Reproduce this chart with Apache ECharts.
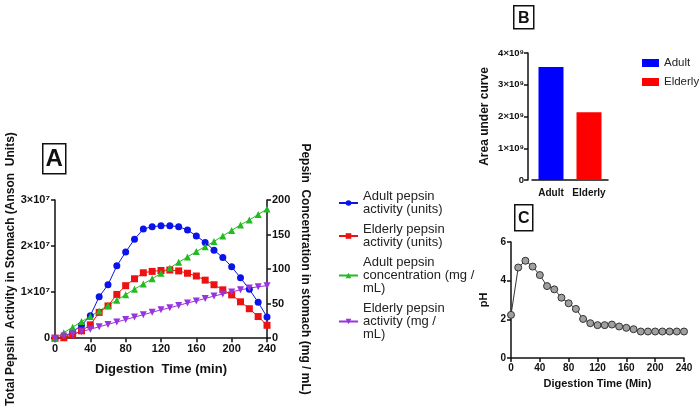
<!DOCTYPE html>
<html>
<head>
<meta charset="utf-8">
<script src="https://cdn.jsdelivr.net/npm/echarts@6/dist/echarts.min.js"></script>
<style>
  html, body { margin: 0; padding: 0; background: #ffffff; }
  #chart { width: 700px; height: 408px; }
</style>
</head>
<body>
<div id="chart"></div>
<script>
// time points (min)
const time = [0, 10, 20, 30, 40, 50, 60, 70, 80, 90, 100, 110, 120, 130, 140, 150, 160, 170, 180, 190, 200, 210, 220, 230, 240]

// panel A - left axis (Anson units)
const adultActivity = [0, 300000, 1400000, 2800000, 4900000, 9000000, 11600000, 15700000, 18700000, 21500000, 23700000, 24200000, 24400000,
  24400000, 24200000, 23500000, 22200000, 20800000, 19100000, 17500000, 15500000, 13100000, 10600000, 7800000, 4600000]
const elderlyActivity = [0, 100000, 700000, 1600000, 2900000, 5600000, 7000000, 9500000, 11400000, 12900000, 14200000, 14500000, 14700000,
  14800000, 14600000, 14100000, 13500000, 12600000, 11600000, 10500000, 9400000, 7900000, 6400000, 4700000, 2800000]
// panel A - right axis (mg / mL)
const adultConc = [0, 8, 16, 24, 31.5, 39.5, 47.5, 55, 63, 71, 78.5, 86, 94, 101.5, 110, 117.5, 125.5, 132.5, 140, 148, 156, 164, 171, 179, 187]
const elderlyConc = [0, 3, 6, 9.5, 13, 16.5, 20, 23.5, 27, 30.5, 34, 37.5, 41, 44, 47.5, 51, 54, 57.5, 61, 64, 67, 70, 72.5, 74.5, 76]

// panel B
const aucGroups = ['Adult', 'Elderly']
const aucValues = [3560000000, 2130000000]

// panel C
const phValues = [2.23, 4.68, 5.03, 4.73, 4.29, 3.72, 3.55, 3.12, 2.83, 2.54, 2.02, 1.80, 1.70, 1.70, 1.73, 1.63, 1.56, 1.49,
  1.37, 1.37, 1.37, 1.37, 1.37, 1.37, 1.37]

const seriesNames = ['Adult pepsin activity (units)', 'Elderly pepsin activity (units)',
  'Adult pepsin concentration (mg / mL)', 'Elderly pepsin activity (mg / mL)']
const legendText = {
  'Adult pepsin activity (units)': 'Adult pepsin\nactivity (units)',
  'Elderly pepsin activity (units)': 'Elderly pepsin\nactivity (units)',
  'Adult pepsin concentration (mg / mL)': 'Adult pepsin\nconcentration (mg /\nmL)',
  'Elderly pepsin activity (mg / mL)': 'Elderly pepsin\nactivity (mg /\nmL)'
}

const pair = (xs, ys) => xs.map((x, i) => [x, ys[i]])
const FONT = 'Liberation Sans, Arial, sans-serif'

const axisBase = {
  axisLine: {show: true, onZero: false, lineStyle: {color: '#111', width: 1.5}},
  axisTick: {show: true, length: 4, lineStyle: {color: '#111', width: 1.5}},
  splitLine: {show: false},
  axisLabel: {color: '#111', fontWeight: 'bold', fontFamily: FONT, fontSize: 11, margin: 5},
  nameTextStyle: {color: '#111', fontWeight: 'bold', fontFamily: FONT, fontSize: 12}
}
const ax = (extra) => Object.assign({}, JSON.parse(JSON.stringify(axisBase)), extra)

const sup = {'7': '⁷', '9': '⁹'}

const boxLabel = (x, y, w, h, letter, size) => ({
  type: 'group', left: x, top: y,
  children: [
    {type: 'rect', shape: {x: 0, y: 0, width: w, height: h}, style: {fill: '#fff', stroke: '#111', lineWidth: 1.5}},
    {type: 'text', x: w / 2, y: h / 2 + 1, style: {text: letter, fill: '#111', font: 'bold ' + size + 'px ' + FONT, align: 'center', verticalAlign: 'middle'}}
  ]
})

let option = {
  animation: false,
  backgroundColor: '#ffffff',
  textStyle: {fontFamily: FONT},
  grid: [
    {left: 55, top: 200, width: 212, height: 142},
    {left: 532, top: 53, width: 76, height: 127},
    {left: 511, top: 242, width: 173, height: 116}
  ],
  legend: [
    {
      data: seriesNames, orient: 'vertical', left: 333, top: 185,
      itemWidth: 19, itemHeight: 7, itemGap: 7,
      formatter: n => legendText[n],
      textStyle: {fontSize: 13, lineHeight: 13, color: '#222', fontFamily: FONT}
    },
    {
      data: aucGroups, orient: 'vertical', left: 642, top: 57, icon: 'rect',
      itemWidth: 17, itemHeight: 8, itemGap: 7, padding: 0,
      textStyle: {fontSize: 11.5, color: '#222', fontFamily: FONT}
    }
  ],
  xAxis: [
    ax({gridIndex: 0, type: 'value', min: 0, max: 240, interval: 40,
      name: 'Digestion  Time (min)', nameLocation: 'middle', nameGap: 25,
      nameTextStyle: {color: '#111', fontWeight: 'bold', fontFamily: FONT, fontSize: 13}}),
    ax({gridIndex: 1, type: 'category', data: aucGroups, axisTick: {show: false},
      axisLabel: {color: '#111', fontWeight: 'bold', fontFamily: FONT, fontSize: 10, margin: 8, interval: 0}}),
    ax({gridIndex: 2, type: 'value', min: 0, max: 240, interval: 40,
      name: 'Digestion Time (Min)', nameLocation: 'middle', nameGap: 20,
      axisLabel: {color: '#111', fontWeight: 'bold', fontFamily: FONT, fontSize: 10, margin: 5},
      nameTextStyle: {color: '#111', fontWeight: 'bold', fontFamily: FONT, fontSize: 11}})
  ],
  yAxis: [
    ax({gridIndex: 0, type: 'value', min: 0, max: 30000000, interval: 10000000,
      name: 'Total Pepsin  Activity in Stomach (Anson  Units)', nameLocation: 'middle', nameGap: 37,
      axisLabel: {color: '#111', fontWeight: 'bold', fontFamily: FONT, fontSize: 11, margin: 5,
        formatter: v => v === 0 ? '0' : (v / 1e7) + '×10' + sup['7']}}),
    ax({gridIndex: 0, type: 'value', position: 'right', min: 0, max: 200, interval: 50,
      name: 'Pepsin  Concentration in stomach (mg / mL)', nameLocation: 'middle', nameGap: 32, nameRotate: -90}),
    ax({gridIndex: 1, type: 'value', min: 0, max: 4000000000, interval: 1000000000, offset: 4,
      name: 'Area under curve', nameLocation: 'middle', nameGap: 37,
      axisLabel: {color: '#111', fontWeight: 'bold', fontFamily: FONT, fontSize: 9.5, margin: 4,
        formatter: v => v === 0 ? '0' : (v / 1e9) + '×10' + sup['9']}}),
    ax({gridIndex: 2, type: 'value', min: 0, max: 6, interval: 2,
      name: 'pH', nameLocation: 'middle', nameGap: 22,
      axisLabel: {color: '#111', fontWeight: 'bold', fontFamily: FONT, fontSize: 10, margin: 5},
      nameTextStyle: {color: '#111', fontWeight: 'bold', fontFamily: FONT, fontSize: 11}})
  ],
  series: [
    {
      name: seriesNames[0], type: 'line', xAxisIndex: 0, yAxisIndex: 0,
      data: pair(time, adultActivity), symbol: 'circle', symbolSize: 7,
      itemStyle: {color: '#0a14e8'}, lineStyle: {width: 1, color: '#0a14e8'}
    },
    {
      name: seriesNames[1], type: 'line', xAxisIndex: 0, yAxisIndex: 0,
      data: pair(time, elderlyActivity), symbol: 'rect', symbolSize: 7,
      itemStyle: {color: '#ee1111'}, lineStyle: {width: 1, color: '#ee1111'}
    },
    {
      name: seriesNames[2], type: 'line', xAxisIndex: 0, yAxisIndex: 1,
      data: pair(time, adultConc), symbol: 'triangle', symbolSize: 7,
      itemStyle: {color: '#22bb22'}, lineStyle: {width: 1, color: '#22bb22'}
    },
    {
      name: seriesNames[3], type: 'line', xAxisIndex: 0, yAxisIndex: 1,
      data: pair(time, elderlyConc), symbol: 'triangle', symbolRotate: 180, symbolSize: 7,
      itemStyle: {color: '#9933dd'}, lineStyle: {width: 1, color: '#9933dd'}
    },
    {
      name: aucGroups[0], type: 'bar', xAxisIndex: 1, yAxisIndex: 2,
      data: [aucValues[0], '-'], barWidth: 25, barGap: '-100%',
      itemStyle: {color: '#0000ff'}
    },
    {
      name: aucGroups[1], type: 'bar', xAxisIndex: 1, yAxisIndex: 2,
      data: ['-', aucValues[1]], barWidth: 25, barGap: '-100%',
      itemStyle: {color: '#ff0000'}
    },
    {
      name: 'pH', type: 'line', xAxisIndex: 2, yAxisIndex: 3,
      data: pair(time, phValues), symbol: 'circle', symbolSize: 7,
      itemStyle: {color: '#a0a0a0', borderColor: '#333', borderWidth: 1},
      lineStyle: {width: 1, color: '#333'}
    }
  ],
  graphic: [
    boxLabel(42, 143, 23, 30, 'A', 24),
    boxLabel(513, 5, 20, 23, 'B', 16),
    boxLabel(514, 204, 18, 26, 'C', 16)
  ]
}

let chart = echarts.init(document.getElementById('chart'))
chart.setOption(option)
</script>
</body>
</html>
